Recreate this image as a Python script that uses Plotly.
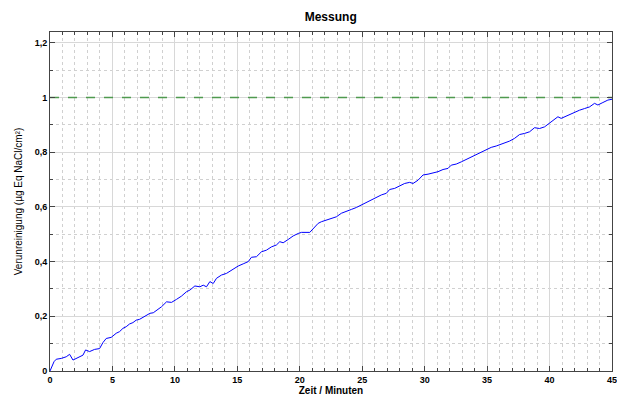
import plotly.graph_objects as go

zeit = [0, 0.32, 0.5, 0.9, 1.3, 1.57, 1.84, 2.24, 2.64, 2.85, 3.17, 3.57, 3.97, 4.24, 4.5, 4.9,
        5.3, 5.57, 5.84, 6.1, 6.37, 6.64, 6.9, 7.17, 7.57, 8.0, 8.27, 8.53, 8.93, 9.33, 9.73,
        10.13, 10.53, 10.93, 11.2, 11.6, 12.0, 12.27, 12.53, 12.8, 13.07, 13.33, 13.73, 14.13,
        14.53, 14.67, 15.07, 15.47, 15.87, 16.13, 16.53, 16.93, 17.33, 17.73, 18.13, 18.4, 18.67,
        19.07, 19.47, 19.87, 20.13, 20.8, 21.07, 21.47, 21.73, 22.13, 22.53, 22.93, 23.33, 23.73,
        24.13, 24.53, 24.93, 25.33, 25.73, 26.13, 26.53, 26.93, 27.2, 27.6, 28.0, 28.4, 28.8,
        29.07, 29.47, 29.87, 30.27, 30.67, 31.07, 31.47, 31.87, 32.13, 32.53, 32.93, 33.33, 33.73,
        34.13, 34.53, 34.93, 35.33, 35.73, 36.13, 36.53, 36.8, 37.2, 37.6, 38.0, 38.4, 38.8,
        39.2, 39.6, 40.0, 40.27, 40.67, 40.93, 41.2, 41.6, 42.0, 42.4, 42.8, 43.2, 43.6, 43.87,
        44.27, 44.67, 45.0]
verunreinigung = [0, 0.034, 0.043, 0.046, 0.052, 0.061, 0.040, 0.050, 0.058, 0.077, 0.071, 0.079,
                  0.082, 0.104, 0.119, 0.123, 0.138, 0.144, 0.156, 0.162, 0.172, 0.177, 0.186, 0.189,
                  0.200, 0.211, 0.213, 0.221, 0.235, 0.253, 0.251, 0.262, 0.274, 0.290, 0.296, 0.311,
                  0.308, 0.314, 0.308, 0.327, 0.320, 0.339, 0.351, 0.357, 0.369, 0.370, 0.384, 0.392,
                  0.400, 0.416, 0.418, 0.436, 0.442, 0.454, 0.461, 0.473, 0.469, 0.481, 0.494, 0.503,
                  0.507, 0.507, 0.522, 0.540, 0.546, 0.552, 0.558, 0.564, 0.577, 0.583, 0.591, 0.598,
                  0.607, 0.619, 0.625, 0.635, 0.644, 0.650, 0.664, 0.668, 0.676, 0.686, 0.690, 0.686,
                  0.698, 0.717, 0.720, 0.725, 0.729, 0.737, 0.741, 0.753, 0.757, 0.765, 0.774, 0.781,
                  0.790, 0.802, 0.811, 0.818, 0.823, 0.830, 0.838, 0.841, 0.851, 0.865, 0.869, 0.875,
                  0.890, 0.887, 0.893, 0.906, 0.918, 0.930, 0.924, 0.930, 0.938, 0.946, 0.954, 0.960,
                  0.966, 0.979, 0.973, 0.982, 0.991, 0.994]

grenzwert_x = [0, 45]
grenzwert_y = [1, 1]

fig = go.Figure()
fig.add_trace(go.Scatter(x=grenzwert_x, y=grenzwert_y, mode="lines",
                         line=dict(color="#4f9a4f", width=1.5, dash="dash"), hoverinfo="skip"))
fig.add_trace(go.Scatter(x=zeit, y=verunreinigung, mode="lines",
                         line=dict(color="#0000ff", width=1)))

axis_common = dict(
    showline=True, linecolor="#444444", linewidth=1, mirror="allticks",
    ticks="inside", ticklen=5, tickcolor="#444444",
    showgrid=True, gridcolor="#d8d8d8", gridwidth=1, zeroline=False,
    automargin=False, ticklabeloverflow="allow",
    tickfont=dict(family="Liberation Sans", size=9, color="#000000", weight="bold"),
)

fig.update_xaxes(range=[0, 45], dtick=5, tick0=0,
                 minor=dict(dtick=1, ticks="inside", ticklen=3, tickcolor="#444444",
                            showgrid=True, gridcolor="#d0d0d0", griddash="dot"),
                 title=dict(text="Zeit / Minuten", standoff=2,
                            font=dict(family="Liberation Sans", size=10, color="#000000", weight="bold")),
                 **axis_common)
fig.update_yaxes(range=[0, 1.24], dtick=0.2, tick0=0,
                 minor=dict(dtick=0.1, ticks="inside", ticklen=3, tickcolor="#444444",
                            showgrid=True, gridcolor="#d0d0d0", griddash="dot"),
                 title=dict(text="Verunreinigung (µg Eq NaCl/cm²)", standoff=10,
                            font=dict(family="Liberation Sans", size=10, color="#000000")),
                 **axis_common)

fig.update_layout(
    width=617, height=400,
    margin=dict(l=50, r=5, t=32, b=29, autoexpand=False),
    paper_bgcolor="white", plot_bgcolor="white",
    showlegend=False,
    separators=",.",
    title=dict(text="Messung", x=0.536, xanchor="center", y=0.957, yanchor="middle",
               font=dict(family="Liberation Sans", size=12, color="#000000", weight="bold")),
)

fig.write_html("out.html", config={"displayModeBar": False},
               post_script="document.body.style.margin='0';document.body.style.overflow='hidden';")
